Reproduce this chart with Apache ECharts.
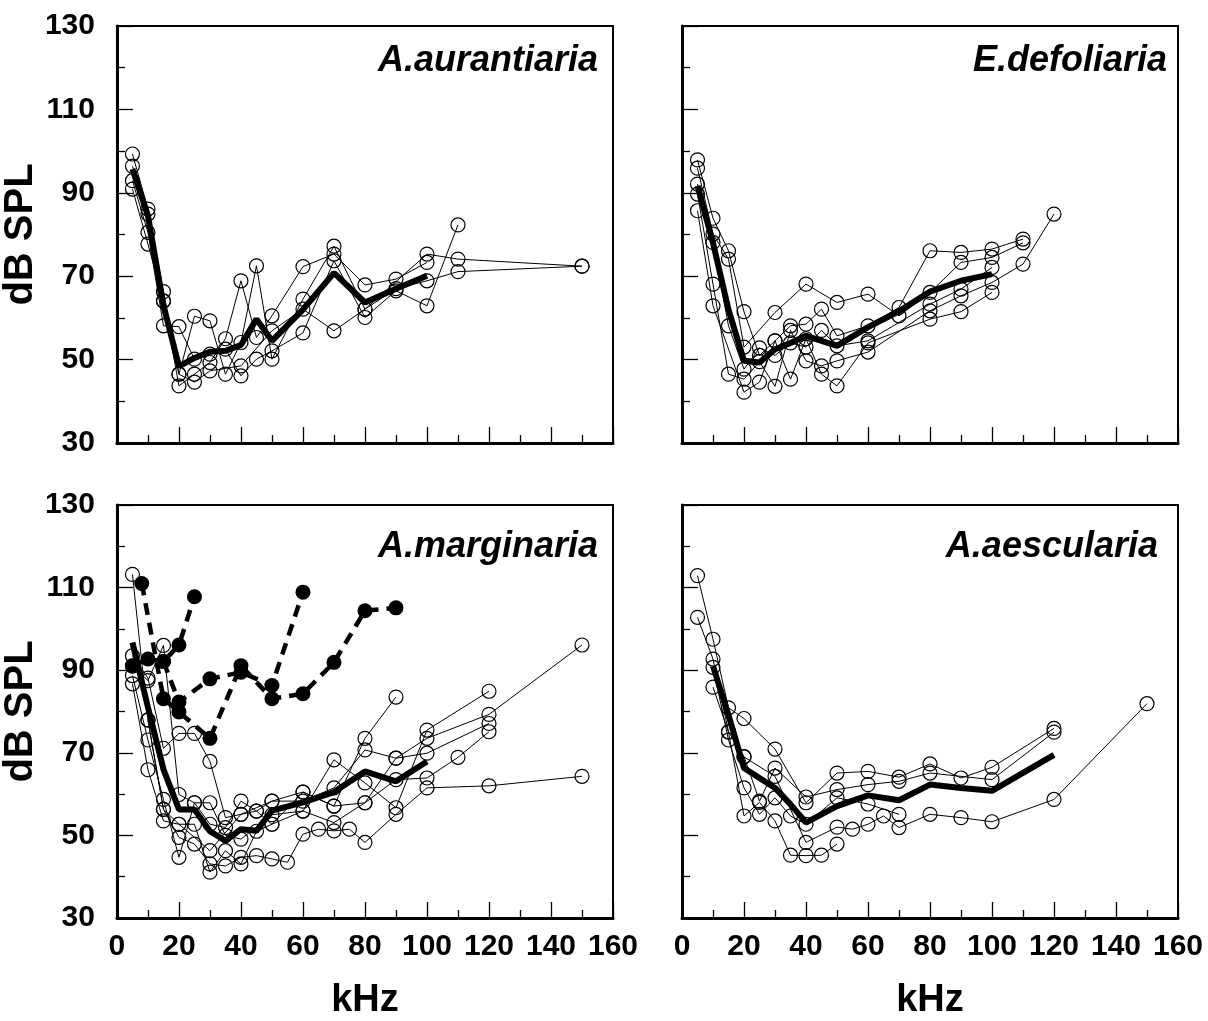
<!DOCTYPE html>
<html>
<head>
<meta charset="utf-8">
<script src="https://cdn.jsdelivr.net/npm/echarts@6/dist/echarts.min.js"></script>
<style>html,body{margin:0;padding:0;background:#fff;}#c{width:1208px;height:1021px;}</style>
</head>
<body>
<div id="c"></div>
<script>
// ---- Data: [kHz, dB SPL] ----
const TITLES = ['A.aurantiaria', 'E.defoliaria', 'A.marginaria', 'A.aescularia'];
const X_TICKS = [0, 20, 40, 60, 80, 100, 120, 140, 160];
const Y_TICKS = [30, 50, 70, 90, 110, 130];

// A.aurantiaria
const AUR_MEAN = [[5,95.7],[10,84.5],[15,63],[20,48.4],[25,50.4],[30,51.9],[35,52.1],[40,53.5],[45,59.7],[50,54.5],[60,62],[70,70.8],[80,63.7],[90,67],[100,70.1]];
const AUR_1 = [[5,99.3],[10,86.1],[15,66.3],[20,46.5],[25,60.4],[30,59.3],[35,46.5],[40,54.1],[45,72.5],[50,50.1],[60,64.5],[70,77.2],[80,62.1],[100,75.3],[110,74.1],[150,72.4]];
const AUR_2 = [[5,96.4],[10,84.9],[15,64.1],[20,43.7],[25,46.5],[30,49.3],[35,55],[40,68.9],[45,55.3],[50,60.5],[60,72.3],[70,75.3],[80,67.9],[90,69.3],[100,73.3]];
const AUR_3 = [[5,92.9],[10,80.5],[15,58.1],[20,57.9],[25,50.1],[30,51.3],[35,52.5],[40,46.1],[45,50.1],[50,52.1],[60,56.4],[70,73.7],[80,60.1],[90,66.5],[100,62.9],[110,82.3]];
const AUR_4 = [[5,90.9],[10,77.7],[15,64],[20,46.5],[25,44.6],[30,47.3],[40,48.5],[50,56.9],[60,62.1],[70,56.9],[80,62.1],[90,67],[100,68.9],[110,71.1],[150,72.4]];

// E.defoliaria
const DEF_MEAN = [[5,91.7],[10,78],[15,62],[20,49.7],[25,49.3],[30,52.5],[35,54],[40,55.7],[45,54.5],[50,53.3],[60,57.8],[70,61.6],[80,66.3],[90,68.9],[100,70.5]];
const DEF_1 = [[5,97.9],[10,83.9],[15,76.1],[20,61.5],[25,51],[30,54.5],[35,58.1],[40,58.5],[45,62.1],[50,55.7],[60,58.1],[70,62.5],[80,76.1],[90,75.7],[100,76.5],[110,78.9]];
const DEF_2 = [[5,95.9],[10,80.1],[15,74.1],[20,53],[30,61.3],[40,68.1],[50,63.7],[60,65.7],[70,60.5],[80,66.1],[90,73.3],[100,74.5],[110,78]];
const DEF_3 = [[5,92.1],[10,78.1],[15,58.1],[20,47.7],[25,52.8],[30,51],[35,54],[40,53],[45,57],[50,53.3],[60,54.5],[80,63.3],[90,66.9],[100,72.1]];
const DEF_4 = [[5,89.7],[10,68.1],[15,46.5],[20,45.3],[25,49.5],[30,43.6],[35,57],[40,49.7],[45,48.5],[50,49.7],[60,51.8],[80,61.7],[90,65.3],[100,68.5],[110,72.9],[120,84.9]];
const DEF_5 = [[5,85.7],[10,62.9],[20,42.2],[25,44.6],[30,54.5],[35,45.3],[40,55],[45,46.5],[50,43.7],[60,54],[80,59.7],[90,61.5],[100,66.1]];

// A.marginaria
const MAR_MEAN = [[5,96.7],[10,81],[15,66],[20,56.3],[25,56.3],[30,51],[35,48.7],[40,51.5],[45,51.1],[50,56],[60,58],[70,60.5],[80,65.5],[90,63.1],[100,67.9]];
const MAR_1 = [[5,113.2],[10,77.9],[15,56.3],[20,49.5],[25,47.9],[30,43.1],[35,42.6],[40,44.7],[45,45.1],[50,44.3],[55,43.5],[60,50.3],[65,51.5],[70,51.1],[75,51.5],[80,48.3],[90,55.1],[100,61.5],[120,62],[150,64.3]];
const MAR_2 = [[5,93.5],[10,88.1],[15,71.1],[20,74.7],[25,74.7],[30,67.9],[35,54.3],[40,55.1],[45,55.9],[50,58.3],[60,58.3],[70,61.5],[80,70.7],[90,68.7],[100,73.5],[120,79.3],[150,96.1]];
const MAR_3 = [[5,88.7],[10,73.1],[15,58.7],[20,44.7],[25,57.9],[30,52.7],[35,51.9],[40,58.3],[45,55.9],[50,52.7],[60,55.9],[70,53.1],[80,57.9],[90,63.5],[100,63.9],[110,68.9],[120,75.1]];
const MAR_4 = [[5,86.7],[10,65.9],[15,53.5],[20,52.7],[25,52.7],[30,41.1],[35,46.3],[40,43.1],[45,51],[50,52.7],[60,60.5],[70,57.1],[80,73.5],[90,83.5]];
const MAR_5 = [[5,91],[10,87.5],[15,96],[20,59.9],[25,57.9],[30,57.9],[35,50],[40,49.1],[50,55],[60,55.9],[70,68.3],[80,62.7],[90,56.7],[100,75.5],[120,84.9]];
const MAR_6 = [[10,78],[15,56.3],[20,52.7],[30,46.3],[40,55.1],[50,58.3],[60,60.5],[70,57.1],[80,57.9],[90,68.7],[100,69.9],[120,77.1]];
const MAR_D1 = [[8,111],[15,83.1],[20,79.9],[30,73.5],[40,91.1],[50,83.1],[60,84.3],[70,91.9],[80,104.4],[90,105.1]];
const MAR_D2 = [[5,91.1],[10,92.7],[15,92.1],[20,96.1],[25,107.8]];
const MAR_D3 = [[15,92.1],[20,82.3],[30,87.9],[40,89.5],[50,86.3],[60,108.9]];

// A.aescularia
const AES_MEAN = [[10,91],[15,79.1],[20,66.3],[25,63.9],[30,61.5],[35,57.5],[40,53.1],[50,57.1],[60,59.7],[70,58.5],[80,62.3],[90,61.5],[100,60.8],[120,69.5]];
const AES_1 = [[5,112.9],[10,97.5],[15,80.9],[20,78.3],[30,70.9],[40,57.9],[50,65.1],[60,65.5],[70,64.1],[80,67.3],[90,63.9],[100,66.5],[120,75.9]];
const AES_2 = [[5,102.8],[10,92.7],[15,75.1],[20,69.1],[25,58.3],[30,66.3],[40,59.3],[50,61.1],[60,62.3],[70,63.1],[80,65.1],[100,63.5],[120,75]];
const AES_3 = [[10,90.7],[15,73.1],[20,61.5],[25,55.1],[30,59.1],[35,54.7],[40,52.7],[50,59.1],[60,57.6],[70,55.1]];
const AES_4 = [[10,85.9],[15,75],[20,54.7],[25,58],[30,53.5],[35,45.2],[40,45.1],[45,45.2],[50,47.9]];
const AES_5 = [[20,69],[30,64.3],[40,48.3],[50,52],[55,51.5],[60,52.7],[65,54.7],[70,51.9],[80,55.1],[90,54.3],[100,53.3],[120,58.7],[150,81.9]];

const PANELS = [
  { solid: [AUR_1, AUR_2, AUR_3, AUR_4], mean: AUR_MEAN, dashed: [] },
  { solid: [DEF_1, DEF_2, DEF_3, DEF_4, DEF_5], mean: DEF_MEAN, dashed: [] },
  { solid: [MAR_1, MAR_2, MAR_3, MAR_4, MAR_5, MAR_6], mean: MAR_MEAN, dashed: [MAR_D1, MAR_D2, MAR_D3] },
  { solid: [AES_1, AES_2, AES_3, AES_4, AES_5], mean: AES_MEAN, dashed: [] }
];

// ---- Layout ----
const FONT = '"Liberation Sans", Arial, Helvetica, sans-serif';
const GRIDS = [
  { left: 114, top: 26, width: 499, height: 417 },
  { left: 682, top: 26, width: 496, height: 417 },
  { left: 114, top: 505, width: 499, height: 416 },
  { left: 682, top: 505, width: 496, height: 416 }
];
const TITLE_POS = [
  { right: 610, top: 43 },
  { right: 41, top: 43 },
  { right: 610, top: 529 },
  { right: 50, top: 529 }
];

const grid = GRIDS.map(g => Object.assign({ show: true, borderColor: '#000', borderWidth: 2, backgroundColor: 'transparent' }, g));

const xAxis = GRIDS.map((g, i) => ({
  type: 'value', gridIndex: i, min: X_TICKS[0], max: X_TICKS[X_TICKS.length - 1], interval: 20,
  axisLine: { show: true, lineStyle: { color: '#000', width: 3 } },
  axisTick: { show: true, inside: true, length: 16, lineStyle: { color: '#000', width: 1.3 } },
  minorTick: { show: true, splitNumber: 2, length: 8, lineStyle: { color: '#000', width: 1.3 } },
  splitLine: { show: false },
  axisLabel: { show: i >= 2, margin: 14, color: '#000', fontSize: 30, fontWeight: 'bold', fontFamily: FONT },
  name: i >= 2 ? 'kHz' : '', nameLocation: 'middle', nameGap: 64,
  nameTextStyle: { color: '#000', fontSize: 38, fontWeight: 'bold', fontFamily: FONT }
}));

const yAxis = GRIDS.map((g, i) => ({
  type: 'value', gridIndex: i, min: Y_TICKS[0], max: Y_TICKS[Y_TICKS.length - 1], interval: 20,
  axisLine: { show: true, lineStyle: { color: '#000', width: 3 } },
  axisTick: { show: true, inside: true, length: 16, lineStyle: { color: '#000', width: 1.3 } },
  minorTick: { show: true, splitNumber: 2, length: 8, lineStyle: { color: '#000', width: 1.3 } },
  splitLine: { show: false },
  axisLabel: { show: i % 2 === 0, margin: 22, color: '#000', fontSize: 30, fontWeight: 'bold', fontFamily: FONT },
  name: i % 2 === 0 ? 'dB SPL' : '', nameLocation: 'middle', nameGap: 62,
  nameTextStyle: { color: '#000', fontSize: 40, fontWeight: 'bold', fontFamily: FONT }
}));

const title = TITLES.map((t, i) => Object.assign({
  text: t, padding: 0,
  textStyle: { color: '#000', fontSize: 36, fontWeight: 'bold', fontStyle: 'italic', fontFamily: FONT }
}, TITLE_POS[i]));

const series = [];
PANELS.forEach((p, i) => {
  p.solid.forEach(d => series.push({
    type: 'line', xAxisIndex: i, yAxisIndex: i, data: d, z: 2,
    symbol: 'circle', symbolSize: 14,
    itemStyle: { color: 'rgba(255,255,255,0)', borderColor: '#000', borderWidth: 1.2 },
    lineStyle: { color: '#000', width: 1 }
  }));
  p.dashed.forEach(d => series.push({
    type: 'line', xAxisIndex: i, yAxisIndex: i, data: d, z: 3,
    symbol: 'circle', symbolSize: 15,
    itemStyle: { color: '#000', borderColor: '#000', borderWidth: 0 },
    lineStyle: { color: '#000', width: 4.5, type: [12, 8] }
  }));
  series.push({
    type: 'line', xAxisIndex: i, yAxisIndex: i, data: p.mean, z: 4,
    symbol: 'none', lineStyle: { color: '#000', width: 6, join: 'bevel' }
  });
});

const chart = echarts.init(document.getElementById('c'), null, { renderer: 'canvas' });
chart.setOption({
  animation: false,
  backgroundColor: '#fff',
  title, grid, xAxis, yAxis, series,
  tooltip: { show: false }
});
</script>
</body>
</html>
